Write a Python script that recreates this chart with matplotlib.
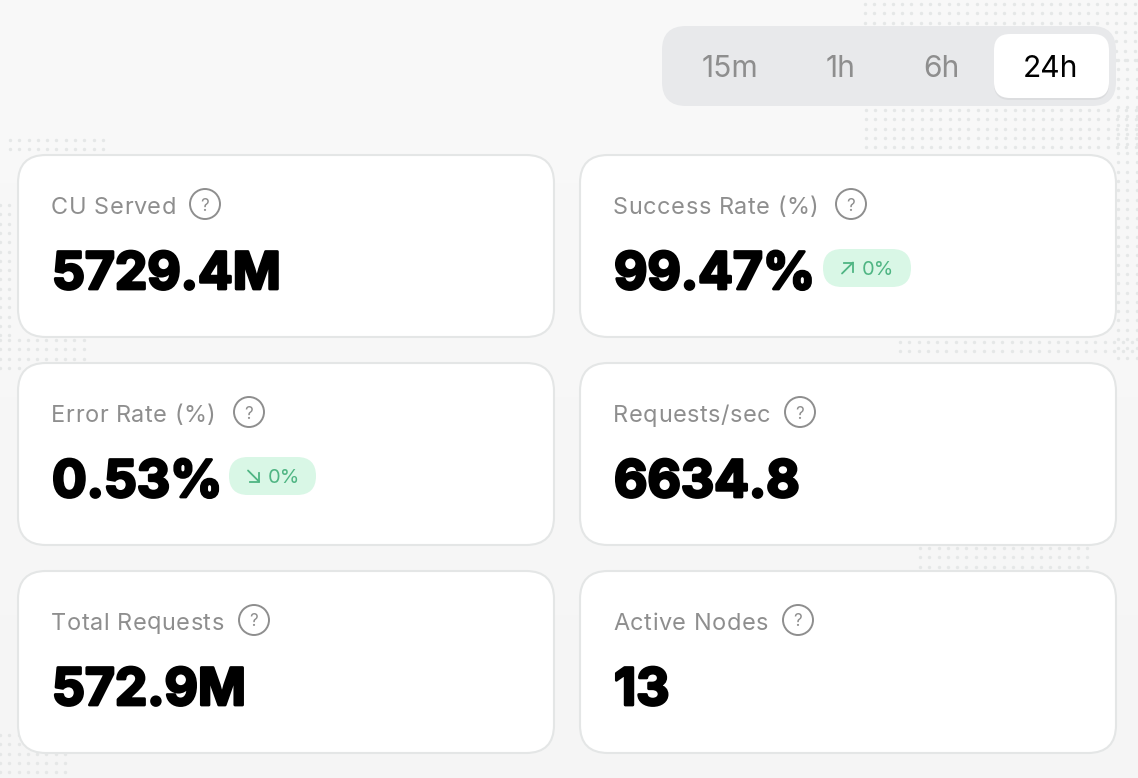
import matplotlib
matplotlib.use("Agg")
import matplotlib.pyplot as plt
import matplotlib.patheffects as pe
from matplotlib.patches import FancyBboxPatch, Circle
import numpy as np

ranges = ["15m", "1h", "6h", "24h"]
active_range = "24h"
labels = ["CU Served", "Success Rate (%)", "Error Rate (%)", "Requests/sec", "Total Requests", "Active Nodes"]
values = ["5729.4M", "99.47%", "0.53%", "6634.8", "572.9M", "13"]
badges = [None, "0%", "0%", None, None, None]
badge_arrows = [None, "up", "down", None, None, None]

W, H = 1138, 778
GRAY = "#8e8e8e"
GREEN = "#4fb583"
plt.rcParams["font.family"] = ["Inter", "DejaVu Sans"]

fig = plt.figure(figsize=(W / 100, H / 100), dpi=100, facecolor="#f5f6f6")
ax = fig.add_axes([0, 0, 1, 1])
ax.set_xlim(0, W)
ax.set_ylim(H, 0)
ax.axis("off")


def px(size):
    return size * 72 / 100


def round_box(x0, y0, x1, y1, r, **kw):
    p = FancyBboxPatch((x0 + r, y0 + r), x1 - x0 - 2 * r, y1 - y0 - 2 * r,
                       boxstyle=f"round,pad={r},rounding_size={r}", **kw)
    ax.add_patch(p)
    return p


def spaced_text(x, y, s, size, spacing, color):
    # no letter-spacing in matplotlib, so place each char at its prefix width
    r = fig.canvas.get_renderer()
    t = ax.text(0, 0, "|", fontsize=px(size))
    bar = t.get_window_extent(r).width
    for i, ch in enumerate(s):
        t.set_text(s[:i] + "|")
        w = t.get_window_extent(r).width - bar
        ax.text(x + w + spacing * i, y, ch, fontsize=px(size), color=color, va="baseline", ha="left", zorder=4)
    t.remove()


# background
ax.imshow(np.linspace(0.972, 0.958, 200).reshape(-1, 1), cmap="gray", vmin=0, vmax=1,
          extent=(0, W, H, 0), aspect="auto", zorder=0)
ax.set_xlim(0, W)
ax.set_ylim(H, 0)

# background dots
spots = [(865, 1138, 4, 60), (866, 1138, 110, 150), (1118, 1138, 60, 360), (900, 1138, 342, 360),
         (0, 18, 205, 340), (0, 90, 340, 372), (10, 110, 140, 150), (920, 1090, 548, 568), (0, 70, 735, 778)]
for x0, x1, y0, y1 in spots:
    gx, gy = np.meshgrid(np.arange(x0, x1, 9.3), np.arange(y0, y1, 9.3))
    ax.scatter(gx.ravel(), gy.ravel(), s=6, color="#e5e7e7", linewidths=0, zorder=1)

# range selector
round_box(662, 26, 1116, 106, 24, fc="#e8e9eb", ec="none", zorder=2)
round_box(994, 36, 1109, 100, 16, fc="#dcdddf", ec="none", zorder=2.5)
round_box(994, 34, 1109, 98, 16, fc="white", ec="none", zorder=3)
range_x = [730, 841, 941, 1051]
for name, x in zip(ranges, range_x):
    ax.text(x, 77, name, fontsize=px(30), ha="center", va="baseline", zorder=4,
            color="black" if name == active_range else GRAY)

# cards
card_x = [(18, 554), (580, 1116)]
card_y = [(155, 337), (363, 545), (571, 753)]
help_x = [205, 851, 249, 800, 254, 798]
badge_x = [None, (823, 911), (229, 316), None, None, None]
for i, label in enumerate(labels):
    x0, x1 = card_x[i % 2]
    y0, y1 = card_y[i // 2]
    round_box(x0, y0, x1, y1, 28, fc="white", ec="#e4e6e6", lw=1.5, zorder=2)
    spaced_text(x0 + 33, y0 + 58.5, label, 23.5, 0.55, GRAY)
    ax.add_patch(Circle((help_x[i], y0 + 49), 15, fc="none", ec=GRAY, lw=1.4, zorder=4))
    ax.text(help_x[i], y0 + 55.5, "?", fontsize=px(17), color=GRAY, ha="center", va="baseline", zorder=5)
    ax.text(x0 + 34, y0 + 134, values[i], fontsize=px(51.5), fontweight="bold", color="black", va="baseline",
            path_effects=[pe.withStroke(linewidth=2.0, foreground="black")], zorder=4)
    if badges[i]:
        bx0, bx1 = badge_x[i]
        by = y0 + 113
        round_box(bx0, by - 19, bx1, by + 19, 19, fc="#d9f7e6", ec="none", zorder=3)
        ax.text(bx0 + 39, by + 7, badges[i], fontsize=px(20), color=GREEN, va="baseline", zorder=4)
        cx, cy = bx0 + 24.5, by
        # small corner arrow, tip at the upper or lower right
        sign = -1 if badge_arrows[i] == "up" else 1
        tip = (cx + 5.5, cy + sign * 5.5)
        ax.plot([cx - 5.5, tip[0]], [cy - sign * 5.5, tip[1]], color=GREEN, lw=1.3, zorder=4, solid_capstyle="round")
        ax.plot([tip[0] - 9, tip[0], tip[0]], [tip[1], tip[1], tip[1] - sign * 9], color=GREEN, lw=1.3, zorder=4,
                solid_joinstyle="miter")

fig.savefig("out.png", dpi=100, facecolor=fig.get_facecolor())
